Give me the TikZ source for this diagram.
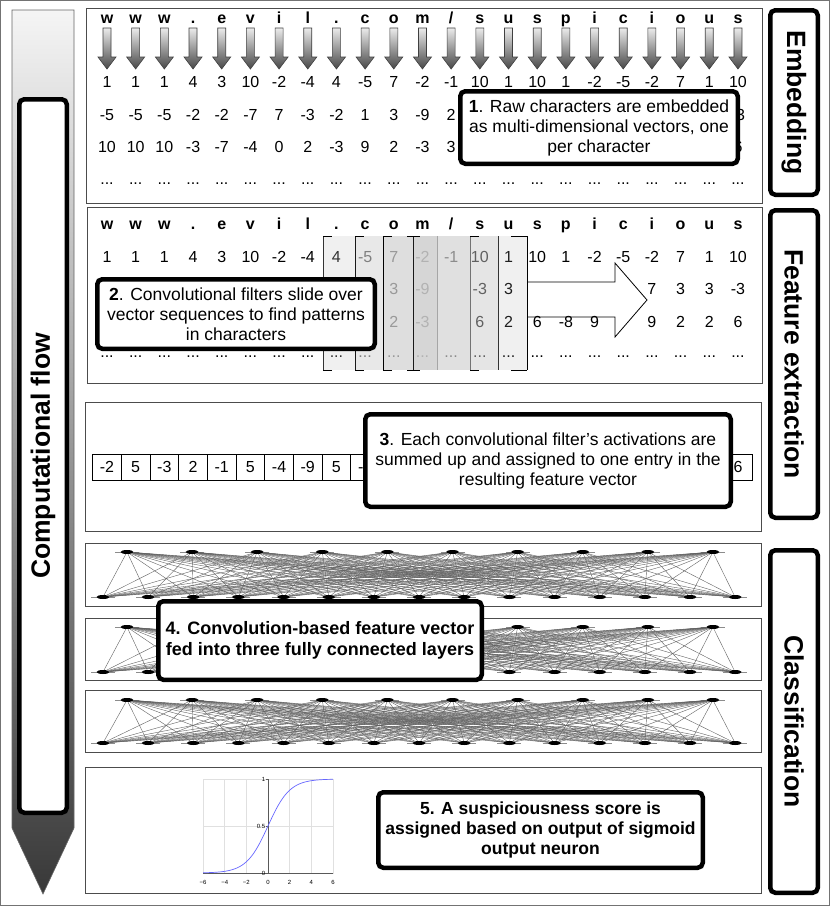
\documentclass[tikz,border=0pt]{standalone}
\usepackage{fontspec}
\setmainfont{Liberation Sans}
\usetikzlibrary{shapes.geometric}
\begin{document}
\begin{tikzpicture}[x=1pt,y=-1pt,
  panel/.style={draw=black!70, line width=0.8pt},
  stepbox/.style={draw=black, line width=4.5pt, rounded corners=5pt, fill=white, align=center, inner sep=0pt, font=\fontsize{17.5}{20}\selectfont},
  labelbox/.style={draw=black, line width=4.5pt, rounded corners=5pt, fill=white, inner sep=0pt, font=\bfseries\fontsize{26.5}{26}\selectfont},
  chr/.style={anchor=base, inner sep=0pt, font=\bfseries\fontsize{16}{16}\selectfont},
  num/.style={anchor=base, inner sep=0pt, font=\fontsize{16}{16}\selectfont},
  smallarrow/.style={shade, top color=black!8, bottom color=black!72, draw=black!75, line width=0.6pt},
  cell/.style={draw=black, line width=0.6pt, minimum width=28.68, minimum height=26, inner sep=0pt, font=\fontsize{16}{16}\selectfont},
  neuron/.style={ellipse, fill=black, minimum width=13, minimum height=4, inner sep=0pt},
  edge/.style={black!62, line width=0.4pt},
]
\path[fill=white] (0,0) rectangle (830,906);
\useasboundingbox (0,0) rectangle (830,906);
\draw[black!55, line width=1pt] (0.5,0.5) rectangle (829.5,905.5);

% ---------- left computational flow arrow
\path[shade, top color=black!4, bottom color=black!78, draw=black!60, line width=0.6pt]
  (12,10) -- (74,10) -- (74,828) -- (43,894) -- (12,828) -- cycle;
\node[labelbox, minimum width=713.5, minimum height=47.5, rotate=90] (flow) at (43,456) {Computational flow};

% ---------- right labels
\node[labelbox, minimum width=184.5, minimum height=47.5, rotate=-90] (lemb) at (794,102.5) {Embedding};
\node[labelbox, minimum width=307.5, minimum height=47.5, rotate=-90] (lfeat) at (794,364) {Feature extraction};
\node[labelbox, minimum width=342.5, minimum height=47.5, rotate=-90] (lcls) at (794,721.5) {Classification};

% ---------- panels
\draw[panel] (86,8) rectangle (762,203);
\draw[panel] (87,207) rectangle (762,383);
\draw[panel] (85,402) rectangle (761,531);
\draw[panel] (85,543) rectangle (761,606);
\draw[panel] (85,618) rectangle (761,680);
\draw[panel] (85,690) rectangle (761,752);
\draw[panel] (85,767) rectangle (761,893);

% ---------- panel 1: embedding
\foreach \ch [count=\k from 0] in {w,w,w,.,e,v,i,l,.,c,o,m,/,s,u,s,p,i,c,i,o,u,s} {
  \node[chr] (ca\k) at ({107+28.68*\k},23) {\ch};
  \path[smallarrow] ({107+28.68*\k-4},28) -- ++(8,0) -- ++(0,29) -- ++(5,0) -- ++(-9,12) -- ++(-9,-12) -- ++(5,0) -- cycle;
  \node[num] (da\k) at ({107+28.68*\k},184) {...};
}
\foreach \v [count=\k from 0] in {1,1,1,4,3,10,-2,-4,4,-5,7,-2,-1,10,1,10,1,-2,-5,-2,7,1,10}
  \node[num] (ra\k) at ({107+28.68*\k},87) {\v};
\foreach \v [count=\k from 0] in {-5,-5,-5,-2,-2,-7,7,-3,-2,1,3,-9,2}
  \node[num] (sa\k) at ({107+28.68*\k},120) {\v};
\node[num] (sa22) at ({107+28.68*22},120) {-3};
\foreach \v [count=\k from 0] in {10,10,10,-3,-7,-4,0,2,-3,9,2,-3,3}
  \node[num] (ta\k) at ({107+28.68*\k},152.5) {\v};
\node[num] (ta22) at ({107+28.68*22},152.5) {6};
\node[stepbox, minimum width=277.5, minimum height=72.5] (b1) at (599,127.5)
  {\textbf{1}. Raw characters are embedded\\as multi-dimensional vectors, one\\per character};

% ---------- panel 2: feature extraction
\path[draw=black, line width=0.8pt, fill=white] (480,282) -- (615,282) -- (615,263) -- (647,300) -- (615,337) -- (615,317) -- (480,317) -- cycle;
\fill[black!6] (323,236) rectangle (355,370);
\fill[black!9] (355,236) rectangle (383,370);
\fill[black!13] (383,236) rectangle (413,370);
\fill[black!16] (413,236) rectangle (437,370);
\fill[black!12] (437,236) rectangle (470,370);
\fill[black!10] (470,236) rectangle (498,370);
\fill[black!6] (498,236) rectangle (527,370);
\foreach \xx/\cc in {323/black!80, 355/black!90, 383/black, 413/black!90, 437/black!35, 470/black!55, 498/black!80, 527/black}
  \draw[\cc, line width=0.7pt] (\xx,236) -- (\xx,370);
\foreach \xa/\xb in {323/332, 355/364, 383/392, 407/420, 470/479, 511/527} {
  \draw[black, line width=0.7pt] (\xa,236) -- (\xb,236);
  \draw[black, line width=0.7pt] (\xa,370) -- (\xb,370);
}
\foreach \ch [count=\k from 0] in {w,w,w,.,e,v,i,l,.,c,o,m,/,s,u,s,p,i,c,i,o,u,s}
  \node[chr] (cb\k) at ({107+28.68*\k},229) {\ch};
\foreach \v/\c [count=\k from 0] in {1/black,1/black,1/black,4/black,3/black,10/black,-2/black,-4/black,4/black!80,-5/black!50,7/black!40,-2/black!30,-1/black!45,10/black!62,1/black!88,10/black,1/black,-2/black,-5/black,-2/black,7/black,1/black,10/black}
  \node[num, text=\c] (rb\k) at ({107+28.68*\k},262) {\v};
\foreach \k/\v/\c in {10/3/black!40, 11/-9/black!30, 13/-3/black!62, 14/3/black!88, 19/7/black, 20/3/black, 21/3/black, 22/-3/black}
  \node[num, text=\c] (sb\k) at ({107+28.68*\k},294) {\v};
\foreach \k/\v/\c in {10/2/black!40, 11/-3/black!30, 13/6/black!62, 14/2/black!88, 15/6/black, 16/-8/black, 17/9/black, 19/9/black, 20/2/black, 21/2/black, 22/6/black}
  \node[num, text=\c] (tb\k) at ({107+28.68*\k},327) {\v};
\foreach \c [count=\k from 0] in {black,black,black,black,black,black,black,black,black!80,black!50,black!40,black!30,black!45,black!62,black!88,black,black,black,black,black,black,black,black}
  \node[num, text=\c] (db\k) at ({107+28.68*\k},357) {...};
\node[stepbox, minimum width=277.5, minimum height=69.5] (b2) at (236,314)
  {\textbf{2}. Convolutional filters slide over\\vector sequences to find patterns\\in characters};

% ---------- panel 3: feature vector
\foreach \k in {0,...,22}
  \node[cell] (fv\k) at ({107+28.68*\k},467) {};
\foreach \v [count=\k from 0] in {-2,5,-3,2,-1,5,-4,-9,5,-1}
  \node[num, anchor=center] (fvt\k) at (fv\k) {\v};
\node[num, anchor=center] (fvt22) at (fv22) {6};
\node[stepbox, minimum width=365.5, minimum height=92.5] (b3) at (548,460.5)
  {\textbf{3}. Each convolutional filter’s activations are\\summed up and assigned to one entry in the\\resulting feature vector};

% ---------- panels 4-6: fully connected layers
\foreach \p/\ty/\by in {1/552/597, 2/627/672, 3/700/743} {
  \foreach \i in {0,...,9} {
    \draw[black!45, line width=0.6pt] ({127+65.1*\i-12},\ty) -- ++(24,0);
    \node[neuron] (t\p-\i) at ({127+65.1*\i},\ty) {};
  }
  \foreach \j in {0,...,14} {
    \draw[black!45, line width=0.6pt] ({103+45.15*\j-12},\by) -- ++(24,0);
    \node[neuron] (b\p-\j) at ({103+45.15*\j},\by) {};
  }
  \foreach \i in {0,...,9}
    \foreach \j in {0,...,14}
      \draw[edge] (t\p-\i) -- (b\p-\j);
}
\node[stepbox, font=\bfseries\fontsize{18}{21}\selectfont, minimum width=323.5, minimum height=78.5] (b4) at (320,640.5)
  {4. Convolution-based feature vector\\fed into three fully connected layers};

% ---------- panel 7: sigmoid
\begin{scope}[shift={(268,873)}, x=10.83pt, y=94pt]
  \draw[black!12, line width=0.5pt] (-6,0) rectangle (6,1);
  \foreach \g in {-4,-2,2,4} \draw[black!12, line width=0.5pt] (\g,0) -- (\g,1);
  \draw[black!12, line width=0.5pt] (-6,0.5) -- (6,0.5);
  \draw[black!65, line width=0.6pt] (-6,0) -- (6,0);
  \draw[black!65, line width=0.6pt] (0,0) -- (0,1);
  \foreach \g in {0,0.5,1} \draw[black!65, line width=0.5pt] (-0.2,\g) -- (0,\g);
  \draw[blue!60, line width=0.7pt, domain=-6:6, samples=80, smooth] plot (\x,{1/(1+exp(-\x))});
  \foreach \g/\t in {-6/−6,-4/−4,-2/−2,0/0,2/2,4/4,6/6}
    \node[font=\fontsize{6}{6}\selectfont, inner sep=0pt] (xl\g) at (\g,-0.095) {\t};
  \foreach \g/\t in {0/0,0.5/0.5,1/1}
    \node[font=\fontsize{6}{6}\selectfont, inner sep=0pt, anchor=east] (yl\g) at (-0.25,\g) {\t};
\end{scope}
\node[stepbox, font=\bfseries\fontsize{17.5}{20}\selectfont, minimum width=324.5, minimum height=75.5] (b5) at (540.5,830)
  {5. A suspiciousness score is\\assigned based on output of sigmoid\\output neuron};
\end{tikzpicture}
\end{document}
